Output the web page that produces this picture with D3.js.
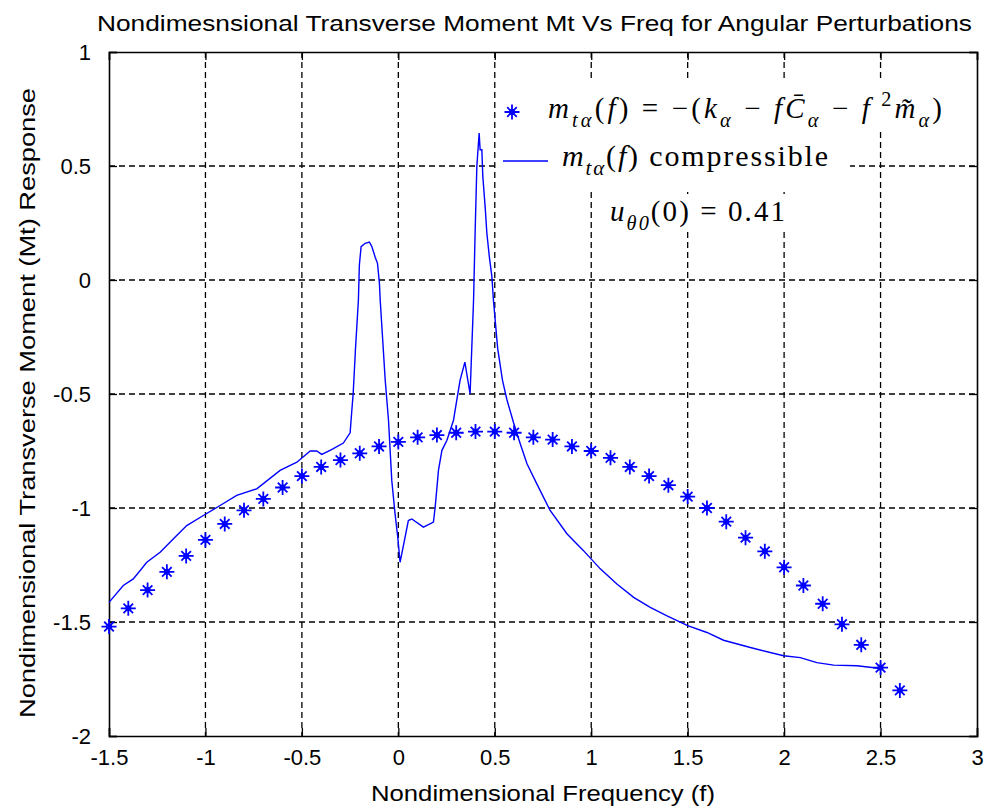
<!DOCTYPE html>
<html>
<head>
<meta charset="utf-8">
<script src="https://cdn.jsdelivr.net/npm/d3@7"></script>
<style>
  body { margin: 0; background: #fff; }
  svg { display: block; }
</style>
</head>
<body>
<svg id="chart"></svg>
<script>
// star series: simple model  m_ta(f) = -(k - f C - f^2 m)
const starF = [-1.5, -1.4, -1.3, -1.2, -1.1, -1.0, -0.9, -0.8, -0.7, -0.6, -0.5, -0.4, -0.3, -0.2, -0.1,
  0, 0.1, 0.2, 0.3, 0.4, 0.5, 0.6, 0.7, 0.8, 0.9, 1.0, 1.1, 1.2, 1.3, 1.4, 1.5, 1.6, 1.7, 1.8, 1.9,
  2.0, 2.1, 2.2, 2.3, 2.4, 2.5, 2.6];
const starM = [-1.52, -1.44, -1.36, -1.28, -1.21, -1.14, -1.07, -1.01, -0.96, -0.91, -0.86, -0.82, -0.79, -0.76, -0.73,
  -0.71, -0.69, -0.68, -0.67, -0.665, -0.665, -0.67, -0.69, -0.70, -0.73, -0.75, -0.78, -0.82, -0.86, -0.90, -0.95,
  -1.00, -1.06, -1.13, -1.19, -1.26, -1.34, -1.42, -1.51, -1.60, -1.70, -1.80];

// compressible response (line)
const lineF = [-1.5, -1.426, -1.374, -1.304, -1.235, -1.149, -1.097, -1.011, -0.924, -0.838, -0.734, -0.613,
  -0.526, -0.457, -0.423, -0.397, -0.354, -0.337, -0.285, -0.25, -0.241, -0.234, -0.222, -0.207, -0.202,
  -0.193, -0.172, -0.15, -0.137, -0.12, -0.108, -0.098, -0.094, -0.068, -0.051, -0.034, -0.017, -0.003,
  0.009, 0.018, 0.035, 0.052, 0.07, 0.13, 0.182, 0.191, 0.208, 0.226, 0.252, 0.286, 0.303, 0.32, 0.345,
  0.372, 0.39, 0.398, 0.407, 0.419, 0.424, 0.433, 0.438, 0.45, 0.459, 0.472, 0.485, 0.493, 0.515, 0.54, 0.563,
  0.597, 0.632, 0.667, 0.718, 0.787, 0.874, 0.96, 1.047, 1.133, 1.22, 1.306, 1.393, 1.5, 1.6, 1.686,
  1.825, 1.997, 2.084, 2.17, 2.257, 2.378, 2.5];
const lineM = [-1.414, -1.34, -1.311, -1.238, -1.194, -1.121, -1.077, -1.033, -0.989, -0.945, -0.916, -0.835,
  -0.799, -0.75, -0.75, -0.765, -0.747, -0.74, -0.715, -0.67, -0.571, -0.497, -0.3, -0.088, 0.066,
  0.146, 0.161, 0.166, 0.146, 0.10, 0.073, -0.015, -0.088, -0.44, -0.615, -0.879, -1.026, -1.128,
  -1.238, -1.2, -1.128, -1.055, -1.048, -1.084, -1.062, -0.996, -0.835, -0.747, -0.703, -0.615, -0.527, -0.44, -0.36,
  -0.5, -0.088, 0.205, 0.498, 0.645, 0.571, 0.571, 0.454, 0.322, 0.205, 0.10, 0.015, -0.088, -0.3, -0.44, -0.525,
  -0.625, -0.718, -0.806, -0.894, -1.011, -1.113, -1.187, -1.267, -1.333, -1.392, -1.436, -1.473, -1.516, -1.546, -1.58,
  -1.612, -1.648, -1.656, -1.678, -1.689, -1.692, -1.704];

const xTicks = [-1.5, -1, -0.5, 0, 0.5, 1, 1.5, 2, 2.5, 3];
const yTicks = [1, 0.5, 0, -0.5, -1, -1.5, -2];

const W = 988, H = 811;
const margin = { top: 52, right: 11, bottom: 75, left: 109 };
const width = W - margin.left - margin.right;
const height = H - margin.top - margin.bottom;
const blue = '#0000ff';
const sans = 'Arial, "Liberation Sans", sans-serif';
const serif = '"Liberation Serif", "Times New Roman", serif';

const svg = d3.select('#chart').attr('width', W).attr('height', H);

const x = d3.scaleLinear().domain([-1.5, 3]).range([0, width]);
const y = d3.scaleLinear().domain([-2, 1]).range([height, 0]);

const chart = svg.append('g')
  .attr('transform', `translate(${margin.left},${margin.top})`);

// grid
chart.append('g')
  .attr('class', 'x-grid')
  .selectAll('line')
  .data(xTicks.slice(1, -1))
  .join('line')
  .attr('x1', d => x(d)).attr('x2', d => x(d))
  .attr('y1', 0).attr('y2', height)
  .attr('stroke', '#000').attr('stroke-width', 1.3)
  .attr('stroke-dasharray', '6,4');

chart.append('g')
  .attr('class', 'y-grid')
  .selectAll('line')
  .data(yTicks.slice(1, -1))
  .join('line')
  .attr('x1', 0).attr('x2', width)
  .attr('y1', d => y(d)).attr('y2', d => y(d))
  .attr('stroke', '#000').attr('stroke-width', 1.3)
  .attr('stroke-dasharray', '6,4');

// axes (ticks inward, box on)
const tickLen = 8;
const fmt = d => String(d);
const xAxis = chart.append('g')
  .attr('transform', `translate(0,${height})`)
  .call(d3.axisBottom(x).tickValues(xTicks).tickSize(-tickLen).tickPadding(tickLen + 9).tickFormat(fmt));
const yAxis = chart.append('g')
  .call(d3.axisLeft(y).tickValues(yTicks).tickSize(-tickLen).tickPadding(tickLen + 10).tickFormat(fmt));
chart.append('g')
  .call(d3.axisTop(x).tickValues(xTicks).tickSize(-tickLen).tickFormat(''));
chart.append('g')
  .attr('transform', `translate(${width},0)`)
  .call(d3.axisRight(y).tickValues(yTicks).tickSize(-tickLen).tickFormat(''));

chart.selectAll('.domain').attr('stroke', '#000').attr('stroke-width', 1.6);
chart.selectAll('.tick line').attr('stroke', '#000').attr('stroke-width', 1.3);
chart.selectAll('.tick text')
  .attr('font-family', sans).attr('font-size', 22).attr('fill', '#000');
xAxis.selectAll('.tick text').attr('dy', '0.55em');

// compressible line
const line = d3.line().x((d, i) => x(d)).y((d, i) => y(lineM[i]));
chart.append('path')
  .attr('d', line(lineF))
  .attr('fill', 'none')
  .attr('stroke', blue)
  .attr('stroke-width', 1.4);

// asterisk markers
const starPath = 'M-7.5,0H7.5M0,-7.5V7.5M-4.8,-4.8L4.8,4.8M-4.8,4.8L4.8,-4.8';
const stars = chart.append('g').selectAll('g')
  .data(starF)
  .join('g')
  .attr('transform', (d, i) => `translate(${x(d)},${y(starM[i])})`);
stars.append('path').attr('d', starPath)
  .attr('stroke', blue).attr('stroke-width', 1.8).attr('fill', 'none');
stars.append('circle').attr('r', 3).attr('fill', blue);

// math-ish text helper
function mathText(g, x0, y0, segs, size, len) {
  const t = g.append('text').attr('x', x0).attr('y', y0)
    .attr('font-family', serif).attr('font-size', size).attr('fill', '#000');
  let shift = 0;
  segs.forEach(s => {
    let target = s.sub ? size * 0.3 : s.sup ? -size * 0.4 : 0;
    t.append('tspan')
      .attr('dy', target - shift)
      .attr('font-size', (s.sub || s.sup) ? size * 0.7 : size)
      .attr('font-style', s.it ? 'italic' : 'normal')
      .text(s.t);
    shift = target;
  });
  if (len) t.attr('textLength', len).attr('lengthAdjust', 'spacing');
  return t;
}

// legend
const legend = svg.append('g');
legend.append('rect')
  .attr('x', 497).attr('y', 88).attr('width', 353).attr('height', 100).attr('fill', '#fff');
legend.append('rect')
  .attr('x', 540).attr('y', 80).attr('width', 408).attr('height', 48).attr('fill', '#fff');
legend.append('path').attr('d', starPath)
  .attr('transform', 'translate(512,112)')
  .attr('stroke', blue).attr('stroke-width', 1.8).attr('fill', 'none');
legend.append('circle').attr('cx', 512).attr('cy', 112).attr('r', 3).attr('fill', blue);
legend.append('line')
  .attr('x1', 503).attr('x2', 548).attr('y1', 161).attr('y2', 161)
  .attr('stroke', blue).attr('stroke-width', 1.4);

mathText(legend, 548, 118, [
  { t: 'm', it: true }, { t: 'tα', it: true, sub: true }, { t: '(' }, { t: 'f', it: true },
  { t: ') = −(' }, { t: 'k', it: true }, { t: 'α', it: true, sub: true }, { t: ' − ' },
  { t: 'f', it: true }, { t: 'C̄', it: true }, { t: 'α', it: true, sub: true }, { t: ' − ' },
  { t: 'f', it: true }, { t: ' 2', sup: true }, { t: 'm̃', it: true }, { t: 'α', it: true, sub: true },
  { t: ')' }
], 29, 394);

mathText(legend, 562, 166, [
  { t: 'm', it: true }, { t: 'tα', it: true, sub: true }, { t: '(' }, { t: 'f', it: true },
  { t: ') compressible' }
], 30, 266);

// annotation
svg.append('rect')
  .attr('x', 604).attr('y', 194).attr('width', 186).attr('height', 36).attr('fill', '#fff');
mathText(svg, 610, 221, [
  { t: 'u', it: true }, { t: 'θ0', it: true, sub: true }, { t: '(0) = 0.41' }
], 29, 175);

// title and axis labels
svg.append('text')
  .attr('x', 97).attr('y', 31)
  .attr('font-family', sans).attr('font-size', 22)
  .attr('textLength', 875).attr('lengthAdjust', 'spacingAndGlyphs')
  .text('Nondimesnsional Transverse Moment Mt Vs Freq for Angular Perturbations');

svg.append('text')
  .attr('x', margin.left + width / 2).attr('y', 801)
  .attr('text-anchor', 'middle')
  .attr('font-family', sans).attr('font-size', 22)
  .attr('textLength', 344).attr('lengthAdjust', 'spacingAndGlyphs')
  .text('Nondimensional Frequency (f)');

svg.append('text')
  .attr('transform', `translate(35,${margin.top + height / 2 + 9}) rotate(-90)`)
  .attr('text-anchor', 'middle')
  .attr('font-family', sans).attr('font-size', 22)
  .attr('textLength', 630).attr('lengthAdjust', 'spacingAndGlyphs')
  .text('Nondimensional Transverse Moment (Mt) Response');
</script>
</body>
</html>
